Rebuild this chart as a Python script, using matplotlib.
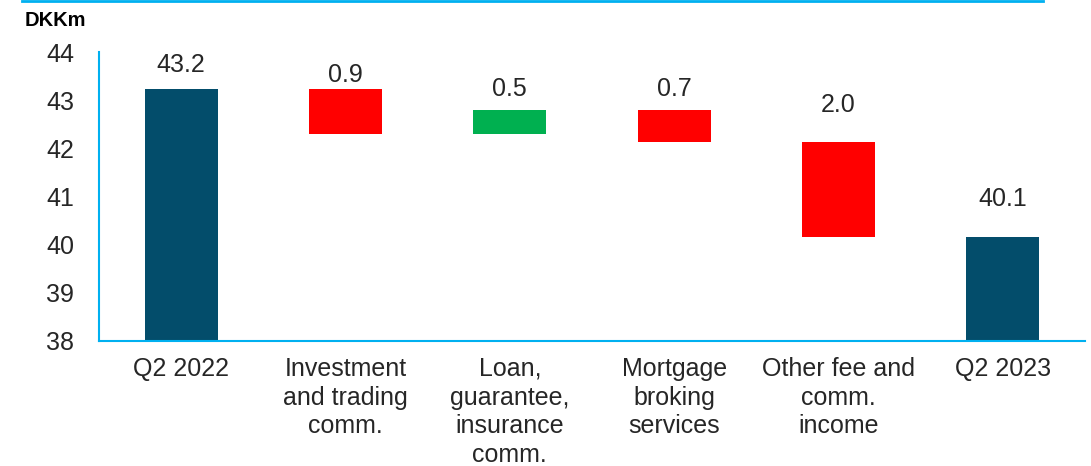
import matplotlib
matplotlib.use("Agg")
import matplotlib.pyplot as plt
from matplotlib.lines import Line2D

# ---- data ----
categories = ["Q2 2022", "Investment\nand trading\ncomm.", "Loan,\nguarantee,\ninsurance\ncomm.",
              "Mortgage\nbroking\nservices", "Other fee and\ncomm.\nincome", "Q2 2023"]
start_value = 43.24
changes = [-0.94, 0.49, -0.66, -1.98]
end_value = 40.15
value_labels = ["43.2", "0.9", "0.5", "0.7", "2.0", "40.1"]
y_ticks = [38, 39, 40, 41, 42, 43, 44]
unit_label = "DKKm"

# ---- style ----
W, H = 1091, 466
DARK = "#034d6b"
RED = "#ff0000"
GREEN = "#00b050"
CYAN = "#00b0f0"
TEXT = "#262626"
FONT = ["Liberation Sans", "DejaVu Sans"]
label_gap_px = [24, 14, 21, 21, 37, 38]
FS = 18

plt.rcParams["font.family"] = FONT

fig = plt.figure(figsize=(W / 100, H / 100), dpi=100)
ax = fig.add_axes([99 / W, 1 - 341 / H, (1085 - 99) / W, (341 - 52) / H])

# waterfall geometry from data
bottoms, heights, colors = [], [], []
bottoms.append(38); heights.append(start_value - 38); colors.append(DARK)
level = start_value
for c in changes:
    new = level + c
    bottoms.append(min(level, new))
    heights.append(abs(c))
    colors.append(GREEN if c > 0 else RED)
    level = new
bottoms.append(38); heights.append(end_value - 38); colors.append(DARK)

x = list(range(len(categories)))
ax.bar(x, heights, bottom=bottoms, width=0.445, color=colors, edgecolor="none", zorder=2)

for xi, b, h, lab, gap in zip(x, bottoms, heights, value_labels, label_gap_px):
    ax.annotate(lab, xy=(xi, b + h), xytext=(0, gap), textcoords="offset pixels",
                ha="center", va="center", fontsize=FS, color=TEXT)

ax.set_xlim(-0.5, 5.5)
ax.set_ylim(38, 44)
ax.set_yticks(y_ticks)
ax.set_yticklabels([str(t) for t in y_ticks])
ax.set_xticks(x)
ax.set_xticklabels(categories, linespacing=1.25)

ax.tick_params(axis="y", length=0, pad=18, labelsize=FS, labelcolor=TEXT)
ax.tick_params(axis="x", length=0, pad=11.5, labelsize=FS, labelcolor=TEXT)

for s in ["top", "right"]:
    ax.spines[s].set_visible(False)
for s in ["left", "bottom"]:
    ax.spines[s].set_color(CYAN)
    ax.spines[s].set_linewidth(1.5)

fig.text(25 / W, 1 - 26 / H, unit_label, fontsize=14.5, fontweight="bold",
         color="black", ha="left", va="baseline")

fig.add_artist(Line2D([22 / W, 1043 / W], [1 - 1 / H, 1 - 1 / H],
                      transform=fig.transFigure, color=CYAN, linewidth=2))

fig.savefig("out.png", dpi=100)
